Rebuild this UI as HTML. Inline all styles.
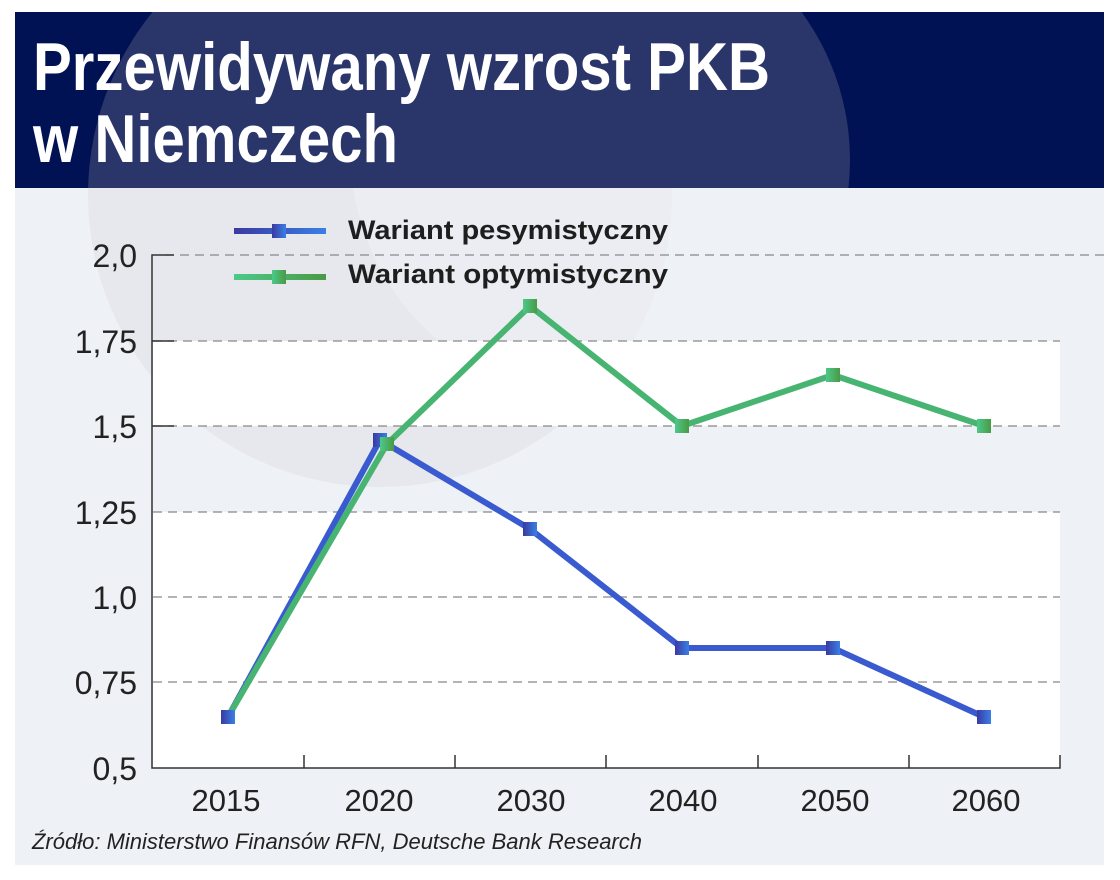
<!DOCTYPE html>
<html><head><meta charset="utf-8"><style>
html,body{margin:0;padding:0;background:#fff;}
svg{display:block;}
</style></head><body>
<svg width="1120" height="880" viewBox="0 0 1120 880" xmlns="http://www.w3.org/2000/svg" font-family="Liberation Sans, sans-serif">
<defs>
<clipPath id="bg"><rect x="15" y="12" width="1089" height="853"/></clipPath>
<clipPath id="hdr"><rect x="15" y="12" width="1089" height="176"/></clipPath>
<linearGradient id="pg" x1="0" y1="0" x2="1" y2="0"><stop offset="0" stop-color="#3a3aa0"/><stop offset="1" stop-color="#3a7fe6"/></linearGradient>
<linearGradient id="og" x1="0" y1="0" x2="1" y2="0"><stop offset="0" stop-color="#4cc98a"/><stop offset="1" stop-color="#4a9a45"/></linearGradient>
</defs>
<rect x="15" y="12" width="1089" height="853" fill="#eef1f5"/>
<g clip-path="url(#bg)">
<circle cx="380" cy="195" r="292" fill="#e7e8ed"/>
<circle cx="600" cy="150" r="250" fill="#eef1f5" opacity="0.55"/>
</g>
<rect x="153" y="341" width="907" height="85" fill="#fff"/>
<rect x="153" y="512" width="907" height="256" fill="#fff"/>
<rect x="15" y="12" width="1089" height="176" fill="#001254"/>
<g clip-path="url(#hdr)">
<circle cx="380" cy="195" r="292" fill="#2a366a"/>
<circle cx="470" cy="230" r="115" fill="#001254"/>
<circle cx="600" cy="160" r="250" fill="#2a366a"/>
</g>
<g fill="#fff" font-weight="bold" font-size="68">
<text x="33" y="90" textLength="737" lengthAdjust="spacingAndGlyphs">Przewidywany wzrost PKB</text>
<text x="33" y="162" textLength="365" lengthAdjust="spacingAndGlyphs">w Niemczech</text>
</g>
<g stroke="#888" stroke-width="1.3" stroke-dasharray="9,6">
<line x1="165" y1="255" x2="1104" y2="255"/>
<line x1="153" y1="341" x2="1060" y2="341"/>
<line x1="153" y1="426" x2="1060" y2="426"/>
<line x1="153" y1="512" x2="1060" y2="512"/>
<line x1="153" y1="597" x2="1060" y2="597"/>
<line x1="153" y1="682" x2="1060" y2="682"/>
</g>
<g stroke="#333" stroke-width="1.5" fill="none">
<path d="M174 255 H152 V768 H1060 V755"/>
<line x1="152" y1="341" x2="174" y2="341"/>
<line x1="152" y1="426" x2="174" y2="426"/>
<line x1="304" y1="768" x2="304" y2="755"/><line x1="455" y1="768" x2="455" y2="755"/>
<line x1="606" y1="768" x2="606" y2="755"/><line x1="758" y1="768" x2="758" y2="755"/>
<line x1="909" y1="768" x2="909" y2="755"/>
</g>
<g font-size="32" fill="#222" text-anchor="end">
<text x="137" y="267">2,0</text><text x="137" y="353">1,75</text><text x="137" y="438">1,5</text>
<text x="137" y="524">1,25</text><text x="137" y="609">1,0</text><text x="137" y="694">0,75</text><text x="137" y="780">0,5</text>
</g>
<g font-size="31" fill="#222" text-anchor="middle">
<text x="226" y="811">2015</text><text x="379" y="811">2020</text><text x="531" y="811">2030</text>
<text x="683" y="811">2040</text><text x="835" y="811">2050</text><text x="986" y="811">2060</text>
</g>
<text x="32" y="849" font-size="22" font-style="italic" fill="#222" textLength="610" lengthAdjust="spacingAndGlyphs">Źródło: Ministerstwo Finansów RFN, Deutsche Bank Research</text>
<rect x="234" y="228" width="92" height="6" fill="url(#pg)"/>
<rect x="272" y="224" width="14" height="14" fill="url(#pg)"/>
<rect x="234" y="274" width="92" height="6" fill="url(#og)"/>
<rect x="272" y="270" width="14" height="14" fill="url(#og)"/>
<g font-size="27" font-weight="bold" fill="#1e1e1e">
<text x="348" y="239" textLength="320" lengthAdjust="spacingAndGlyphs">Wariant pesymistyczny</text>
<text x="348" y="283" textLength="320" lengthAdjust="spacingAndGlyphs">Wariant optymistyczny</text>
</g>
<polyline points="228,717 380,440 530,529 682,648 833,648 984,717" fill="none" stroke="#3a5bd0" stroke-width="6" stroke-linejoin="round"/>
<polyline points="228,717 387,444 530,306 682,426 833,375 984,426" fill="none" stroke="#48b472" stroke-width="6" stroke-linejoin="round"/>
<g fill="url(#pg)">
<rect x="221" y="710" width="14" height="14"/><rect x="373" y="433" width="14" height="14"/>
<rect x="523" y="522" width="14" height="14"/><rect x="675" y="641" width="14" height="14"/>
<rect x="826" y="641" width="14" height="14"/><rect x="977" y="710" width="14" height="14"/>
</g>
<g fill="url(#og)">
<rect x="380" y="437" width="14" height="14"/><rect x="523" y="299" width="14" height="14"/>
<rect x="675" y="419" width="14" height="14"/><rect x="826" y="368" width="14" height="14"/>
<rect x="977" y="419" width="14" height="14"/>
</g>
</svg>
</body></html>
